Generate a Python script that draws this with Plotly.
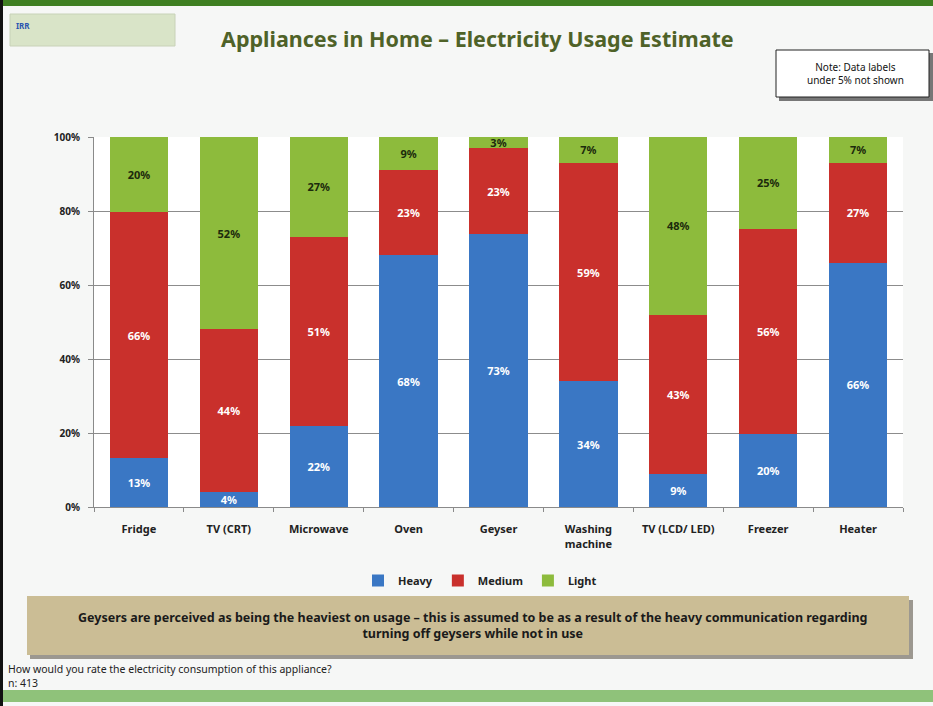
import plotly.graph_objects as go

categories = ["Fridge", "TV (CRT)", "Microwave", "Oven", "Geyser",
              "Washing<br>machine", "TV (LCD/ LED)", "Freezer", "Heater"]
heavy = [13, 4, 22, 68, 73, 34, 9, 20, 66]
medium = [66, 44, 51, 23, 23, 59, 43, 56, 27]
light = [20, 52, 27, 9, 3, 7, 48, 25, 7]
y_ticks = [0, 20, 40, 60, 80, 100]

W, H = 933, 706
L, R, T, B = 94, 903, 137, 507


def px(x):
    return (x - L) / (R - L)


def py(y):
    return (B - y) / (B - T)


FONT = "Noto Sans"
fig = go.Figure()
series = [("Heavy", heavy, "#3a77c4", "white"),
          ("Medium", medium, "#c9302c", "white"),
          ("Light", light, "#8dbb3c", "#1c2a0c")]
for name, vals, col, tcol in series:
    fig.add_trace(go.Bar(
        x=categories, y=vals, name=name, marker=dict(color=col, line=dict(width=0)),
        text=[f"<b>{v}%</b>" for v in vals], textposition="inside",
        insidetextanchor="middle", textangle=0,
        textfont=dict(color=tcol, size=11, family=FONT),
        constraintext="none",
    ))

shapes = []
# slide frame
shapes.append(dict(type="rect", xref="paper", yref="paper", x0=px(0), x1=px(W), y0=py(0), y1=py(6),
                   fillcolor="#3f7f22", line=dict(width=0), layer="below"))
shapes.append(dict(type="rect", xref="paper", yref="paper", x0=px(0), x1=px(W), y0=py(690), y1=py(702),
                   fillcolor="#8fc27a", line=dict(width=0), layer="below"))
shapes.append(dict(type="rect", xref="paper", yref="paper", x0=px(0), x1=px(3), y0=py(0), y1=py(706),
                   fillcolor="#111111", line=dict(width=0)))
# logo box
shapes.append(dict(type="rect", xref="paper", yref="paper", x0=px(10), x1=px(175), y0=py(14), y1=py(46),
                   fillcolor="#d9e4c8", line=dict(color="#c8d2b8", width=1), layer="below"))
# note box with shadow
shapes.append(dict(type="rect", xref="paper", yref="paper", x0=px(779), x1=px(933), y0=py(53), y1=py(101),
                   fillcolor="#777777", line=dict(width=0)))
shapes.append(dict(type="rect", xref="paper", yref="paper", x0=px(776), x1=px(929), y0=py(50), y1=py(97),
                   fillcolor="white", line=dict(color="#222222", width=1)))
# beige box with shadow
shapes.append(dict(type="rect", xref="paper", yref="paper", x0=px(30), x1=px(913), y0=py(600), y1=py(659),
                   fillcolor="#9c9890", line=dict(width=0)))
shapes.append(dict(type="rect", xref="paper", yref="paper", x0=px(27), x1=px(909), y0=py(596), y1=py(655),
                   fillcolor="#cbbd95", line=dict(width=0)))

annotations = [
    dict(text="<b>Appliances in Home – Electricity Usage Estimate</b>", x=px(477), y=py(38),
         xref="paper", yref="paper", showarrow=False, xanchor="center", yanchor="middle",
         font=dict(size=21.5, color="#4f6228", family=FONT)),
    dict(text="<b>IRR</b>", x=px(14), y=py(26), xref="paper", yref="paper", showarrow=False,
         xanchor="left", yanchor="middle", font=dict(size=8, color="#2a55b0", family=FONT)),
    dict(text="Note: Data labels<br>under 5% not shown", x=px(855), y=py(73), xref="paper", yref="paper",
         showarrow=False, xanchor="center", yanchor="middle", align="center",
         font=dict(size=10, color="#111111", family=FONT)),
    dict(text="<b>Geysers are perceived as being the heaviest on usage – this is assumed to be as a result of the heavy communication regarding<br>turning off geysers while not in use</b>",
         x=px(472), y=py(625), xref="paper", yref="paper", showarrow=False, xanchor="center",
         yanchor="middle", align="center", font=dict(size=12.5, color="#1a1a1a", family=FONT)),
    dict(text="How would you rate the electricity consumption of this appliance?<br>n: 413",
         x=px(6), y=py(676), xref="paper", yref="paper", showarrow=False, xanchor="left",
         yanchor="middle", align="left", font=dict(size=10.5, color="#222222", family=FONT)),
]

fig.update_layout(
    width=W, height=H,
    margin=dict(l=L, r=W - R, t=T, b=H - B),
    barmode="stack", barnorm="percent", bargap=0.35,
    paper_bgcolor="#f6f7f6", plot_bgcolor="white",
    font=dict(family=FONT, size=11, color="#222222"),
    showlegend=True,
    legend=dict(orientation="h", x=px(480), xanchor="center", y=py(566), yanchor="top",
                font=dict(size=11, color="#222222", family=FONT, weight="bold"), traceorder="normal",
                bgcolor="rgba(0,0,0,0)", itemwidth=30),
    xaxis=dict(showline=True, linecolor="#8a8a8a", ticks="outside", ticklen=4, tickcolor="#8a8a8a",
               tickson="boundaries", ticklabelstandoff=12,
               tickfont=dict(size=11, color="#222222", family=FONT),
               tickprefix="<b>", ticksuffix="</b>"),
    yaxis=dict(range=[0, 100], tickvals=y_ticks, ticktext=[f"<b>{v}%</b>" for v in y_ticks],
               showgrid=True, gridcolor="#8c8c8c", gridwidth=1, showline=True, linecolor="#8a8a8a",
               ticks="outside", ticklen=5, tickcolor="#8a8a8a", ticklabelstandoff=6,
               tickfont=dict(size=10, color="#222222", family=FONT)),
    shapes=shapes, annotations=annotations,
    uniformtext=dict(minsize=8, mode="show"),
)

fig.write_html("out.html", config={"displayModeBar": False},
               post_script="document.body.style.margin='0';")
